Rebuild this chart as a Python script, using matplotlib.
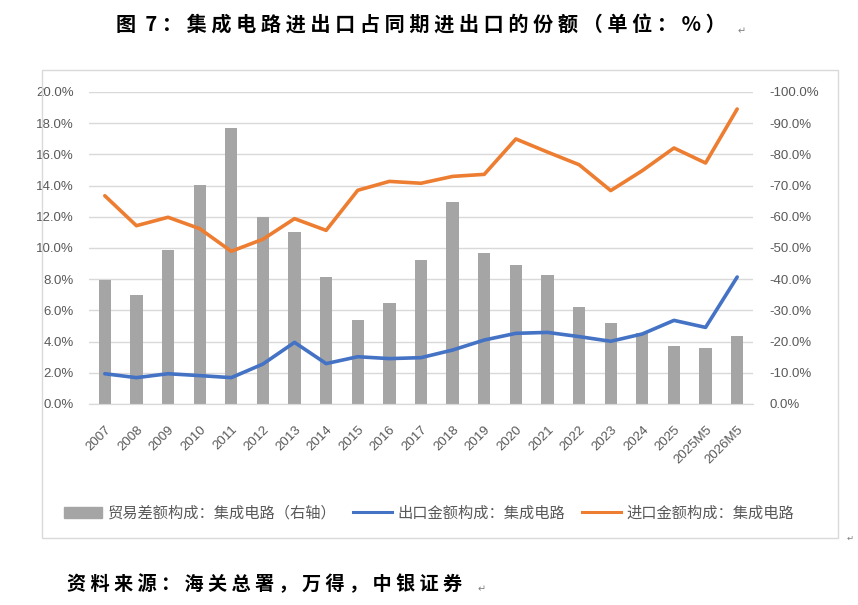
import matplotlib
matplotlib.use("Agg")
import numpy as np
from matplotlib import pyplot as plt
from matplotlib.patches import Rectangle
from matplotlib.lines import Line2D
from matplotlib.ticker import FuncFormatter, FixedLocator

plt.rcParams['font.family'] = ['Noto Sans CJK SC', 'DejaVu Sans']

categories = ['2007', '2008', '2009', '2010', '2011', '2012', '2013', '2014',
              '2015', '2016', '2017', '2018', '2019', '2020', '2021', '2022',
              '2023', '2024', '2025', '2025M5', '2026M5']

# trade balance share (right axis, %), negative values
balance = [-39.6, -35.0, -49.5, -70.3, -88.6, -60.0, -55.2, -40.8,
           -27.0, -32.5, -46.0, -64.8, -48.5, -44.7, -41.5, -31.2,
           -26.0, -22.8, -18.7, -17.8, -21.9]
# export share (left axis, %)
export = [1.94, 1.69, 1.94, 1.82, 1.69, 2.56, 3.95, 2.59,
          3.03, 2.91, 2.97, 3.46, 4.10, 4.53, 4.59, 4.32,
          4.02, 4.49, 5.36, 4.91, 8.14]
# import share (left axis, %)
imports = [13.35, 11.43, 11.97, 11.24, 9.79, 10.56, 11.88, 11.13,
           13.70, 14.27, 14.15, 14.59, 14.72, 16.99, 16.15, 15.34,
           13.68, 14.96, 16.41, 15.45, 18.91]

title = '图 7：集成电路进出口占同期进出口的份额（单位：%）'
source = '资料来源：海关总署，万得，中银证券'

gray_txt = '#595959'
grid_c = '#d9d9d9'

fig = plt.figure(figsize=(8.58, 6.05), dpi=100)
ax = fig.add_axes([89 / 858, 1 - 404 / 605, 664 / 858, 312 / 605])
ax2 = ax.twinx()
ax.set_zorder(ax2.get_zorder() + 1)
ax.patch.set_visible(False)

x = np.arange(len(categories))

# bars on right axis, drawn below the lines
ax2.bar(x, balance, width=0.39, color='#A5A5A5', zorder=2)
ax2.set_ylim(0, -100)
ax2.yaxis.set_major_locator(FixedLocator(np.arange(0, -101, -10)))
ax2.yaxis.set_major_formatter(FuncFormatter(lambda v, p: f'{v:.1f}%' if v != 0 else '0.0%'))
ax2.grid(axis='y', color=grid_c, lw=1, zorder=0)
ax2.set_axisbelow(True)

ax.plot(x, export, color='#4472C4', lw=2.6, solid_capstyle='round')
ax.plot(x, imports, color='#ED7D31', lw=2.6, solid_capstyle='round')
ax.set_ylim(0, 20)
ax.yaxis.set_major_locator(FixedLocator(np.arange(0, 20.1, 2)))
ax.yaxis.set_major_formatter(FuncFormatter(lambda v, p: f'{v:.1f}%'))
ax.set_xlim(-0.5, len(categories) - 0.5)
ax.set_xticks(x)
ax.set_xticklabels(categories, rotation=45, ha='right', rotation_mode='anchor')

for a in (ax, ax2):
    for s in ('top', 'left', 'right'):
        a.spines[s].set_visible(False)
    a.spines['bottom'].set_color(grid_c)
    a.tick_params(length=0, colors=gray_txt, labelsize=9.5)
    for lab in a.get_yticklabels() + a.get_xticklabels():
        lab.set_fontfamily(['Liberation Sans', 'DejaVu Sans'])
ax.tick_params(axis='y', pad=11)
ax2.tick_params(axis='y', pad=12)
ax.tick_params(axis='x', pad=14)

# outer chart frame
fig.patches.append(Rectangle((42 / 858, 1 - 538 / 605), 796 / 858, 468 / 605,
                             transform=fig.transFigure, fill=False,
                             edgecolor=grid_c, lw=1))

handles = [Rectangle((0, 0), 1, 1, color='#A5A5A5'),
           Line2D([], [], color='#4472C4', lw=2.2),
           Line2D([], [], color='#ED7D31', lw=2.2)]
labels = ['贸易差额构成：集成电路（右轴）', '出口金额构成：集成电路', '进口金额构成：集成电路']
fig.legend(handles, labels, loc='center', bbox_to_anchor=(0.5, 1 - 513 / 605),
           ncol=3, frameon=False, fontsize=11, labelcolor=gray_txt,
           handlelength=2.5, handletextpad=0.4, columnspacing=1.1,
           handleheight=0.7)

# spaced-out heading and source line, like the document text
fig.text(0.49, 1 - 25 / 605, ' '.join(title.replace(' ', '')).replace('图 7', '图  7'),
         ha='center', va='center', fontsize=14.5, fontweight='bold', color='black')
fig.text(67 / 858, 1 - 584 / 605, ' '.join(source),
         ha='left', va='center', fontsize=13.8, fontweight='bold', color='black')
fig.text(742 / 858, 1 - 31 / 605, '↵', fontsize=7, color='#808080',
         ha='center', va='center', family='DejaVu Sans')
fig.text(482 / 858, 1 - 589 / 605, '↵', fontsize=7, color='#808080',
         ha='center', va='center', family='DejaVu Sans')
fig.text(850 / 858, 1 - 538 / 605, '↵', fontsize=6, color='#808080',
         ha='center', va='center', family='DejaVu Sans')

fig.savefig('out.png', dpi=100)
